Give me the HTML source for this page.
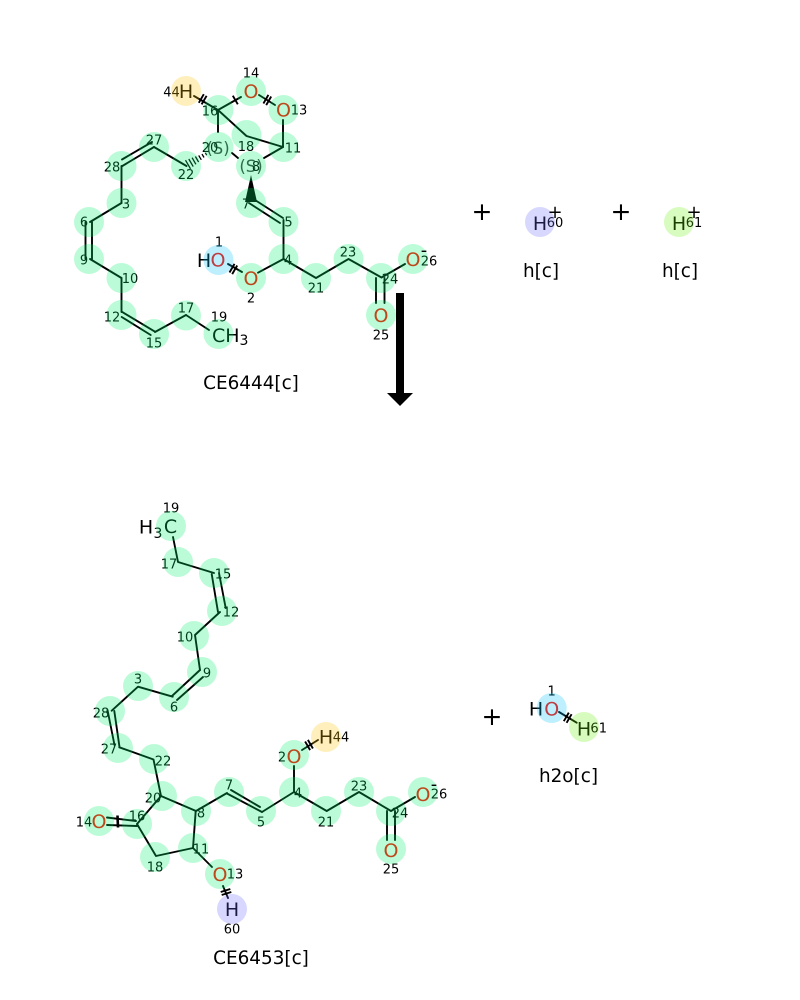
<!DOCTYPE html>
<html>
<head>
<meta charset="utf-8">
<style>
html,body{margin:0;padding:0;background:#fff}
svg{display:block}
text{font-family:"DejaVu Sans","Liberation Sans",sans-serif;text-anchor:middle}
.b line,.b polyline{stroke:#000;stroke-width:1.9;fill:none;stroke-linecap:round;stroke-linejoin:round}
.t line{stroke:#000;stroke-width:1.9}
.n text{font-size:13px;fill:#000}
.e text{font-size:19px;fill:#000}
.e text.o{fill:#ff0c00}
.s text{font-size:16.5px;fill:#404040}
.l text{font-size:18.4px;fill:#000}
.p text{fill:#000}
.h{opacity:.26}
</style>
</head>
<body>
<svg width="800" height="1000" viewBox="0 0 800 1000" xmlns="http://www.w3.org/2000/svg" style="background:#fff">
<rect width="800" height="1000" fill="#fff"/>

<!-- TOP MOLECULE BONDS -->
<g class="b">
<line x1="218" y1="110" x2="194" y2="96"/>
<line x1="218" y1="110" x2="241" y2="97"/>
<line x1="259" y1="95" x2="275" y2="105"/>
<line x1="283" y1="147" x2="283" y2="120"/>
<polyline points="218,110 246.5,136 283,147"/>
<line x1="218" y1="110" x2="218" y2="132"/>
<line x1="232" y1="153" x2="238" y2="158"/>
<line x1="264" y1="158" x2="283" y2="147"/>
<line x1="154" y1="147" x2="186.5" y2="166"/>
<line x1="154" y1="147" x2="121.5" y2="166.5"/>
<line x1="152" y1="142" x2="122" y2="159.5"/>
<line x1="121.5" y1="166" x2="121.5" y2="203"/>
<line x1="121.5" y1="203" x2="90" y2="222"/>
<line x1="85.5" y1="222" x2="85.5" y2="259"/>
<line x1="92" y1="222" x2="92" y2="259"/>
<line x1="90" y1="259" x2="121.5" y2="278"/>
<line x1="121.5" y1="278" x2="121.5" y2="312"/>
<line x1="121.7" y1="311.7" x2="155" y2="331.7"/>
<line x1="121.7" y1="317" x2="150.7" y2="335"/>
<line x1="155" y1="332" x2="186" y2="315"/>
<line x1="186" y1="315" x2="209" y2="330"/>
<line x1="255" y1="200" x2="283" y2="218"/>
<line x1="249" y1="203" x2="280" y2="223"/>
<line x1="283.5" y1="220" x2="283.5" y2="259"/>
<line x1="258" y1="272.7" x2="283.5" y2="259"/>
<line x1="228" y1="264" x2="242" y2="272"/>
<polyline points="283.5,259 316,278 348.5,259 381.5,277.5 405,264"/>
<line x1="376" y1="278" x2="376" y2="303"/>
<line x1="384.5" y1="278" x2="384.5" y2="303"/>
</g>
<polygon points="251,175 245,202 257,202" fill="#000"/>
<g class="t">
<line x1="198.8" y1="102.8" x2="203.8" y2="94.2"/><line x1="201.6" y1="104.4" x2="206.6" y2="95.8"/>
<line x1="232.8" y1="95.7" x2="237.8" y2="104.3"/>
<line x1="263.4" y1="103.5" x2="268.4" y2="94.9"/><line x1="266.2" y1="105.1" x2="271.2" y2="96.5"/>
<line x1="229.5" y1="272.5" x2="234.5" y2="263.9"/><line x1="232.2" y1="274.1" x2="237.2" y2="265.5"/>
<!-- hashed wedge -->
<line x1="185.5" y1="160.2" x2="190.5" y2="168.8" style="stroke-width:1.3"/>
<line x1="188.8" y1="159" x2="193.2" y2="166.6" style="stroke-width:1.3"/>
<line x1="192.1" y1="157.7" x2="195.9" y2="164.3" style="stroke-width:1.3"/>
<line x1="195.4" y1="156.5" x2="198.6" y2="162.1" style="stroke-width:1.3"/>
<line x1="198.7" y1="155.4" x2="201.3" y2="159.8" style="stroke-width:1.3"/>
<line x1="202" y1="154.1" x2="204" y2="157.5" style="stroke-width:1.3"/>
<line x1="205.3" y1="152.8" x2="206.7" y2="155.2" style="stroke-width:1.3"/>
</g>

<!-- BOTTOM MOLECULE BONDS -->
<g class="b">
<polyline points="173,537 178,562 214,573"/>
<line x1="211.7" y1="574" x2="218" y2="612"/>
<line x1="219" y1="573" x2="225.7" y2="608"/>
<polyline points="220,612 195,635 200,670"/>
<line x1="200" y1="670" x2="172" y2="696"/>
<line x1="203" y1="677" x2="177" y2="700"/>
<polyline points="172.7,696.7 138,686.7 111.7,710.7"/>
<line x1="107.5" y1="710" x2="114.5" y2="745"/>
<line x1="114.3" y1="711" x2="119.5" y2="747"/>
<polyline points="119.3,747.3 153.5,759.5 161,796 196,811"/>
<line x1="161" y1="796" x2="137" y2="824"/>
<line x1="107" y1="817.5" x2="136" y2="821"/>
<line x1="107" y1="825" x2="137" y2="826"/>
<polyline points="137,824 156,856 193,848 195.7,811"/>
<line x1="193" y1="848" x2="212" y2="867"/>
<line x1="223" y1="886" x2="228" y2="898"/>
<line x1="196" y1="811" x2="227" y2="793"/>
<line x1="227" y1="793.5" x2="262" y2="812"/>
<line x1="231" y1="790" x2="260" y2="807"/>
<polyline points="262,812 294,792 326.7,811 359,792 391,811 415,797"/>
<line x1="294" y1="792" x2="294" y2="766"/>
<line x1="302" y1="750" x2="318" y2="740"/>
<line x1="387" y1="811" x2="387" y2="840"/>
<line x1="395" y1="811" x2="395" y2="840"/>
<!-- water -->
<line x1="559" y1="712" x2="576.7" y2="722.7"/>
</g>
<g class="t">
<line x1="117.5" y1="815.5" x2="118" y2="827.5" style="stroke-width:2.6"/>
<line x1="220.7" y1="892" x2="230.3" y2="889"/><line x1="221.7" y1="895" x2="231.3" y2="892"/>
<line x1="305.1" y1="741.5" x2="310.1" y2="750.1"/><line x1="307.9" y1="739.9" x2="312.9" y2="748.5"/>
<line x1="563.8" y1="721.2" x2="568.8" y2="712.6"/><line x1="566.6" y1="722.8" x2="571.6" y2="714.2"/>
</g>

<!-- ELEMENT LABELS -->
<g class="e">
<text x="186" y="98">H</text>
<text class="o" x="251" y="98">O</text>
<text class="o" x="283.5" y="116.5">O</text>
<text x="204" y="267">H</text>
<text class="o" x="218" y="266.5">O</text>
<text class="o" x="251" y="285">O</text>
<text class="o" x="381" y="322">O</text>
<text class="o" x="413" y="266">O</text>
<text x="212" y="342" style="text-anchor:start">CH</text>
<text x="244" y="345" style="font-size:14px">3</text>
<text x="540" y="230">H</text>
<text x="679" y="230">H</text>

<text x="146" y="533.5">H</text>
<text x="158" y="538" style="font-size:14px">3</text>
<text x="170.5" y="533">C</text>
<text class="o" x="294" y="763">O</text>
<text x="326" y="743.5">H</text>
<text class="o" x="99" y="828">O</text>
<text class="o" x="220" y="881">O</text>
<text x="232" y="916">H</text>
<text class="o" x="391" y="857">O</text>
<text class="o" x="423" y="801">O</text>
<text x="536" y="715.5">H</text>
<text class="o" x="551.7" y="715.5">O</text>
<text x="584" y="735.5">H</text>
</g>
<g class="s">
<text x="218" y="154">(S)</text>
<text x="251" y="172">(S)</text>
</g>

<!-- ATOM NUMBERS -->
<g class="n">
<text x="171.5" y="96.5">44</text><text x="251" y="77.5">14</text><text x="299" y="114.5">13</text>
<text x="210" y="115.5">16</text><text x="210" y="152">20</text><text x="246" y="151">18</text>
<text x="293" y="152.5">11</text><text x="256" y="171">8</text><text x="154" y="144.5">27</text>
<text x="112" y="171.5">28</text><text x="186" y="179">22</text><text x="126" y="208.5">3</text>
<text x="84" y="226.5">6</text><text x="246" y="208.5">7</text><text x="288.5" y="226.5">5</text>
<text x="84" y="264.5">9</text><text x="130" y="283">10</text><text x="112" y="321.5">12</text>
<text x="154" y="347.5">15</text><text x="186" y="312.5">17</text><text x="219" y="321.5">19</text>
<text x="219" y="246.5">1</text><text x="251" y="302.5">2</text><text x="288" y="264.5">4</text>
<text x="316" y="292.5">21</text><text x="348" y="256.5">23</text><text x="390" y="283.5">24</text>
<text x="381" y="339.5">25</text><text x="429" y="265.5">26</text>
<text x="555" y="227">60</text><text x="694" y="227">61</text>

<text x="171" y="512.5">19</text><text x="169" y="568.5">17</text><text x="223" y="578.5">15</text>
<text x="231" y="616.5">12</text><text x="185" y="641.5">10</text><text x="207" y="677.5">9</text>
<text x="174" y="711.5">6</text><text x="138" y="683.5">3</text><text x="101" y="717.5">28</text>
<text x="109" y="753.5">27</text><text x="163" y="765.5">22</text><text x="153" y="802.5">20</text>
<text x="84" y="826.5">14</text><text x="137" y="820.5">16</text><text x="155" y="871.5">18</text>
<text x="201" y="853.5">11</text><text x="201" y="817.5">8</text><text x="235" y="878.5">13</text>
<text x="232" y="933.5">60</text><text x="229" y="789.5">7</text><text x="261" y="826.5">5</text>
<text x="298" y="797.5">4</text><text x="282" y="761.5">2</text><text x="341" y="741.5">44</text>
<text x="326" y="826.5">21</text><text x="359" y="790.5">23</text><text x="400" y="817.5">24</text>
<text x="391" y="873.5">25</text><text x="439" y="798.5">26</text>
<text x="551.7" y="695.5">1</text><text x="598.7" y="732.5">61</text>
</g>

<!-- HIGHLIGHT CIRCLES: one translucent group so overlaps do not darken -->
<g class="h">
<g fill="#00f369">
<circle cx="218.5" cy="110" r="15"/><circle cx="218.5" cy="147" r="15"/><circle cx="246.5" cy="135" r="15"/>
<circle cx="283.5" cy="147" r="15"/><circle cx="251" cy="166" r="15"/><circle cx="154" cy="147" r="15"/>
<circle cx="121.5" cy="166" r="15"/><circle cx="186" cy="166" r="15"/><circle cx="121.5" cy="203" r="15"/>
<circle cx="89" cy="222" r="15"/><circle cx="251" cy="203" r="15"/><circle cx="283.5" cy="222" r="15"/>
<circle cx="89" cy="259" r="15"/><circle cx="121.5" cy="278" r="15"/><circle cx="121.5" cy="315" r="15"/>
<circle cx="154" cy="334" r="15"/><circle cx="186" cy="315.5" r="15"/><circle cx="218.5" cy="334" r="15"/>
<circle cx="251" cy="278" r="15"/><circle cx="283.5" cy="259" r="15"/><circle cx="316" cy="278" r="15"/>
<circle cx="348.5" cy="259" r="15"/><circle cx="381" cy="278" r="15"/><circle cx="381" cy="315" r="15"/>
<circle cx="413" cy="259" r="15"/><circle cx="251" cy="91" r="15"/><circle cx="283.5" cy="110" r="15"/>

<circle cx="171" cy="526" r="15"/><circle cx="178" cy="562" r="15"/><circle cx="214" cy="573" r="15"/>
<circle cx="222" cy="611" r="15"/><circle cx="194" cy="636" r="15"/><circle cx="202" cy="672" r="15"/>
<circle cx="174" cy="697" r="15"/><circle cx="138" cy="686" r="15"/><circle cx="110" cy="711" r="15"/>
<circle cx="118" cy="748" r="15"/><circle cx="154" cy="759" r="15"/><circle cx="162" cy="796" r="15"/>
<circle cx="196" cy="811" r="15"/><circle cx="229" cy="792" r="15"/><circle cx="261" cy="811" r="15"/>
<circle cx="294" cy="792" r="15"/><circle cx="294" cy="755" r="15"/><circle cx="326" cy="811" r="15"/>
<circle cx="359" cy="792" r="15"/><circle cx="391" cy="811" r="15"/><circle cx="391" cy="849" r="15"/>
<circle cx="423" cy="792" r="15"/><circle cx="137" cy="824" r="15"/><circle cx="99" cy="821" r="15"/>
<circle cx="155" cy="857" r="15"/><circle cx="193" cy="848" r="15"/><circle cx="220" cy="874" r="15"/>
</g>
<circle cx="186" cy="91" r="15" fill="#ffc500"/>
<circle cx="218.5" cy="260" r="15" fill="#09c5ff"/>
<circle cx="540" cy="222" r="15" fill="#6969ff"/>
<circle cx="679" cy="222" r="15" fill="#69f30d"/>
<circle cx="326" cy="737" r="15" fill="#ffc500"/>
<circle cx="232" cy="909" r="15" fill="#6969ff"/>
<circle cx="551.7" cy="708" r="15" fill="#09c5ff"/>
<circle cx="584" cy="727" r="15" fill="#69f30d"/>
</g>

<!-- CHARGES AND PLUS SIGNS -->
<g class="p">
<text x="482" y="220" style="font-size:25px">+</text>
<text x="621" y="220" style="font-size:25px">+</text>
<text x="492" y="725" style="font-size:25px">+</text>
<text x="555" y="218" style="font-size:18px">+</text>
<text x="694" y="218" style="font-size:18px">+</text>
<text x="424" y="256" style="font-size:18px">-</text>
<text x="434" y="790" style="font-size:18px">-</text>
</g>

<!-- NAMES -->
<g class="l">
<text x="251" y="389">CE6444[c]</text>
<text x="261" y="964">CE6453[c]</text>
<text x="541" y="277">h[c]</text>
<text x="680" y="277">h[c]</text>
<text x="568.5" y="782">h2o[c]</text>
</g>

<!-- ARROW -->
<rect x="396" y="293" width="8" height="101" fill="#000"/>
<polygon points="387,393 413,393 400,406" fill="#000"/>
</svg>
</body>
</html>
